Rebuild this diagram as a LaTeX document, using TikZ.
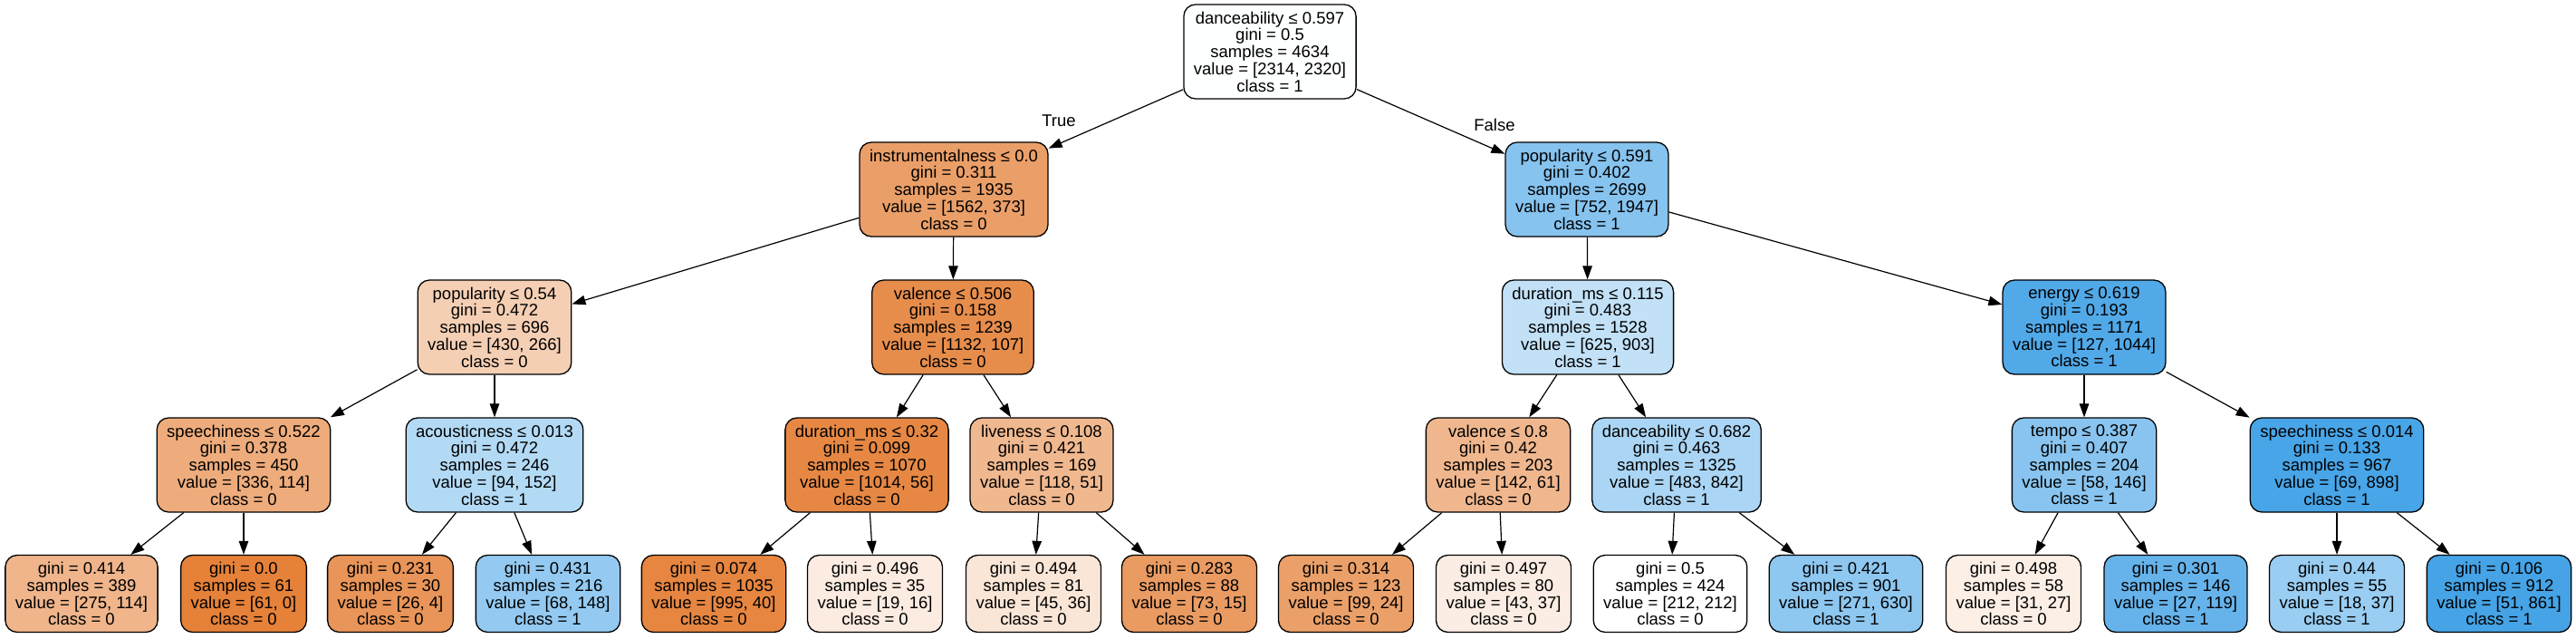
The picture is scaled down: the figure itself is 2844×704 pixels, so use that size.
\documentclass[tikz,border=0pt]{standalone}
\usepackage{fontspec}
\setmainfont{Liberation Sans}
\usetikzlibrary{arrows.meta}

\definecolor{fillroot}{RGB}{254,255,255}
\definecolor{fillinstr}{RGB}{235,159,104}
\definecolor{fillpopA}{RGB}{134,195,239}
\definecolor{fillpopB}{RGB}{245,207,180}
\definecolor{fillvalA}{RGB}{231,141,76}
\definecolor{filldurA}{RGB}{194,225,247}
\definecolor{fillenergy}{RGB}{81,169,232}
\definecolor{fillspeechA}{RGB}{238,172,124}
\definecolor{fillacoust}{RGB}{179,218,245}
\definecolor{filldurB}{RGB}{230,136,68}
\definecolor{filllive}{RGB}{240,184,143}
\definecolor{fillvalB}{RGB}{240,183,142}
\definecolor{filldance}{RGB}{171,213,244}
\definecolor{filltempo}{RGB}{136,196,239}
\definecolor{fillspeechB}{RGB}{72,165,231}
\definecolor{fillleafA}{RGB}{240,181,139}
\definecolor{fillleafB}{RGB}{229,129,57}
\definecolor{fillleafC}{RGB}{233,148,88}
\definecolor{fillleafD}{RGB}{148,202,241}
\definecolor{fillleafE}{RGB}{230,134,65}
\definecolor{fillleafF}{RGB}{251,235,224}
\definecolor{fillleafG}{RGB}{250,230,215}
\definecolor{fillleafH}{RGB}{234,155,98}
\definecolor{fillleafI}{RGB}{235,160,105}
\definecolor{fillleafJ}{RGB}{251,237,227}
\definecolor{fillleafK}{RGB}{255,255,255}
\definecolor{fillleafL}{RGB}{142,199,240}
\definecolor{fillleafM}{RGB}{252,239,230}
\definecolor{fillleafN}{RGB}{102,179,235}
\definecolor{fillleafO}{RGB}{153,205,242}
\definecolor{fillleafP}{RGB}{69,163,230}

\tikzset{
    treenode/.style={draw, rounded corners=13pt, line width=1.3pt, align=center,
        inner xsep=11pt, inner ysep=3pt, font=\fontsize{18.5}{18.8}\selectfont},
    split/.style={treenode, minimum height=104pt},
    leaf/.style={treenode, minimum height=85pt},
    branch/.style={line width=1.2pt, -{Triangle[length=15pt,width=10.5pt]}},
    sidelabel/.style={font=\fontsize{18.5}{18.8}\selectfont, inner sep=0pt}
}

\begin{document}
\begin{tikzpicture}[x=1pt, y=-1pt]
    \useasboundingbox (0,0) rectangle (2844,704);

    \node[split, fill=fillroot] (root) at (1402,57) {danceability ≤ 0.597\\gini = 0.5\\samples = 4634\\value = [2314, 2320]\\class = 1};

    \node[split, fill=fillinstr] (instr) at (1053,209) {instrumentalness ≤ 0.0\\gini = 0.311\\samples = 1935\\value = [1562, 373]\\class = 0};
    \node[split, fill=fillpopA] (popA) at (1752,209) {popularity ≤ 0.591\\gini = 0.402\\samples = 2699\\value = [752, 1947]\\class = 1};

    \node[split, fill=fillpopB] (popB) at (546,361) {popularity ≤ 0.54\\gini = 0.472\\samples = 696\\value = [430, 266]\\class = 0};
    \node[split, fill=fillvalA] (valA) at (1052,361) {valence ≤ 0.506\\gini = 0.158\\samples = 1239\\value = [1132, 107]\\class = 0};
    \node[split, fill=filldurA] (durA) at (1753,361) {duration\_ms ≤ 0.115\\gini = 0.483\\samples = 1528\\value = [625, 903]\\class = 1};
    \node[split, fill=fillenergy] (energy) at (2301,361) {energy ≤ 0.619\\gini = 0.193\\samples = 1171\\value = [127, 1044]\\class = 1};

    \node[split, fill=fillspeechA] (speechA) at (269,513) {speechiness ≤ 0.522\\gini = 0.378\\samples = 450\\value = [336, 114]\\class = 0};
    \node[split, fill=fillacoust] (acoust) at (546,513) {acousticness ≤ 0.013\\gini = 0.472\\samples = 246\\value = [94, 152]\\class = 1};
    \node[split, fill=filldurB] (durB) at (957,513) {duration\_ms ≤ 0.32\\gini = 0.099\\samples = 1070\\value = [1014, 56]\\class = 0};
    \node[split, fill=filllive] (live) at (1150,513) {liveness ≤ 0.108\\gini = 0.421\\samples = 169\\value = [118, 51]\\class = 0};
    \node[split, fill=fillvalB] (valB) at (1654,513) {valence ≤ 0.8\\gini = 0.42\\samples = 203\\value = [142, 61]\\class = 0};
    \node[split, fill=filldance] (dance) at (1851,513) {danceability ≤ 0.682\\gini = 0.463\\samples = 1325\\value = [483, 842]\\class = 1};
    \node[split, fill=filltempo] (tempo) at (2301,513) {tempo ≤ 0.387\\gini = 0.407\\samples = 204\\value = [58, 146]\\class = 1};
    \node[split, fill=fillspeechB] (speechB) at (2580,513) {speechiness ≤ 0.014\\gini = 0.133\\samples = 967\\value = [69, 898]\\class = 1};

    \node[leaf, fill=fillleafA] (leafA) at (90,655) {gini = 0.414\\samples = 389\\value = [275, 114]\\class = 0};
    \node[leaf, fill=fillleafB] (leafB) at (269,655) {gini = 0.0\\samples = 61\\value = [61, 0]\\class = 0};
    \node[leaf, fill=fillleafC] (leafC) at (431,655) {gini = 0.231\\samples = 30\\value = [26, 4]\\class = 0};
    \node[leaf, fill=fillleafD] (leafD) at (605,655) {gini = 0.431\\samples = 216\\value = [68, 148]\\class = 1};
    \node[leaf, fill=fillleafE] (leafE) at (788,655) {gini = 0.074\\samples = 1035\\value = [995, 40]\\class = 0};
    \node[leaf, fill=fillleafF] (leafF) at (966,655) {gini = 0.496\\samples = 35\\value = [19, 16]\\class = 0};
    \node[leaf, fill=fillleafG] (leafG) at (1141,655) {gini = 0.494\\samples = 81\\value = [45, 36]\\class = 0};
    \node[leaf, fill=fillleafH] (leafH) at (1313,655) {gini = 0.283\\samples = 88\\value = [73, 15]\\class = 0};
    \node[leaf, fill=fillleafI] (leafI) at (1486,655) {gini = 0.314\\samples = 123\\value = [99, 24]\\class = 0};
    \node[leaf, fill=fillleafJ] (leafJ) at (1660,655) {gini = 0.497\\samples = 80\\value = [43, 37]\\class = 0};
    \node[leaf, fill=fillleafK] (leafK) at (1844,655) {gini = 0.5\\samples = 424\\value = [212, 212]\\class = 0};
    \node[leaf, fill=fillleafL] (leafL) at (2038,655) {gini = 0.421\\samples = 901\\value = [271, 630]\\class = 1};
    \node[leaf, fill=fillleafM] (leafM) at (2223,655) {gini = 0.498\\samples = 58\\value = [31, 27]\\class = 0};
    \node[leaf, fill=fillleafN] (leafN) at (2402,655) {gini = 0.301\\samples = 146\\value = [27, 119]\\class = 1};
    \node[leaf, fill=fillleafO] (leafO) at (2580,655) {gini = 0.44\\samples = 55\\value = [18, 37]\\class = 1};
    \node[leaf, fill=fillleafP] (leafP) at (2759,655) {gini = 0.106\\samples = 912\\value = [51, 861]\\class = 1};

    \node[sidelabel] (truelabel) at (1169,133) {True};
    \node[sidelabel] (falselabel) at (1650,138) {False};

    \draw[branch] (root) -- (instr);
    \draw[branch] (root) -- (popA);
    \draw[branch] (instr) -- (popB);
    \draw[branch] (instr) -- (valA);
    \draw[branch] (popA) -- (durA);
    \draw[branch] (popA) -- (energy);
    \draw[branch] (popB) -- (speechA);
    \draw[branch] (popB) -- (acoust);
    \draw[branch] (valA) -- (durB);
    \draw[branch] (valA) -- (live);
    \draw[branch] (durA) -- (valB);
    \draw[branch] (durA) -- (dance);
    \draw[branch] (energy) -- (tempo);
    \draw[branch] (energy) -- (speechB);
    \draw[branch] (speechA) -- (leafA);
    \draw[branch] (speechA) -- (leafB);
    \draw[branch] (acoust) -- (leafC);
    \draw[branch] (acoust) -- (leafD);
    \draw[branch] (durB) -- (leafE);
    \draw[branch] (durB) -- (leafF);
    \draw[branch] (live) -- (leafG);
    \draw[branch] (live) -- (leafH);
    \draw[branch] (valB) -- (leafI);
    \draw[branch] (valB) -- (leafJ);
    \draw[branch] (dance) -- (leafK);
    \draw[branch] (dance) -- (leafL);
    \draw[branch] (tempo) -- (leafM);
    \draw[branch] (tempo) -- (leafN);
    \draw[branch] (speechB) -- (leafO);
    \draw[branch] (speechB) -- (leafP);
\end{tikzpicture}
\end{document}
